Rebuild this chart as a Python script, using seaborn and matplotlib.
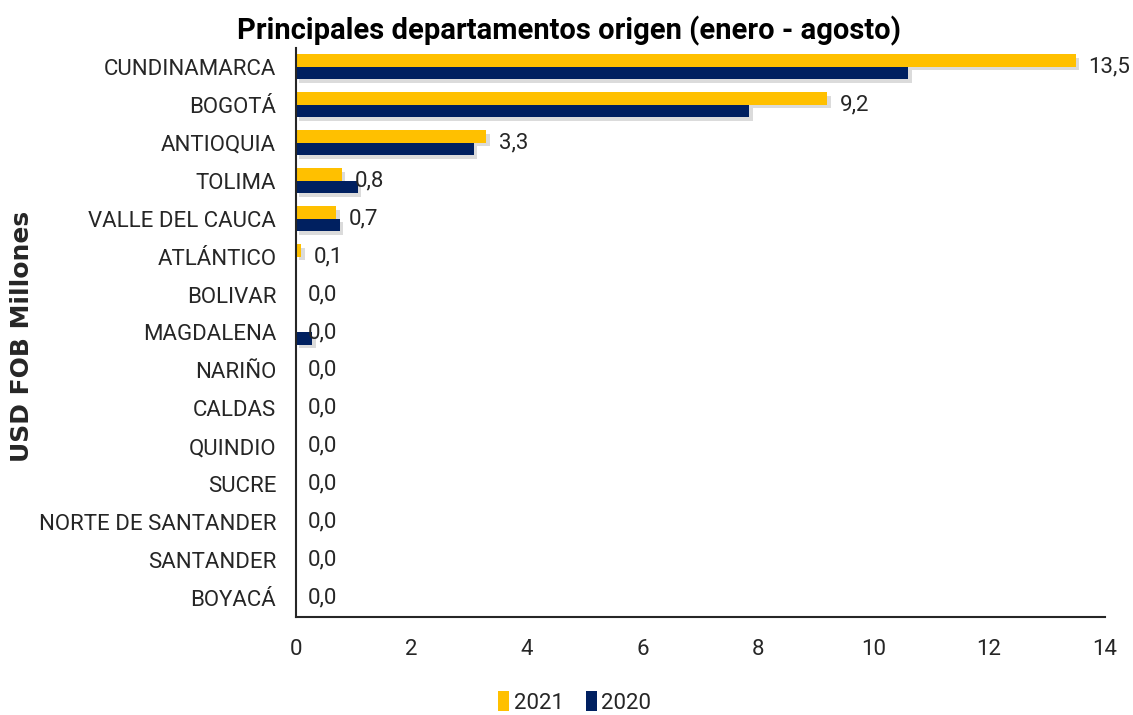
import numpy as np
import pandas as pd
import seaborn as sns
from matplotlib import pyplot as plt
import matplotlib.patheffects as pe

departamentos = ["CUNDINAMARCA", "BOGOTÁ", "ANTIOQUIA", "TOLIMA", "VALLE DEL CAUCA",
                 "ATLÁNTICO", "BOLIVAR", "MAGDALENA", "NARIÑO", "CALDAS", "QUINDIO",
                 "SUCRE", "NORTE DE SANTANDER", "SANTANDER", "BOYACÁ"]
val_2021 = [13.5, 9.2, 3.3, 0.8, 0.7, 0.1, 0.0, 0.0, 0.0, 0.0, 0.0, 0.0, 0.0, 0.0, 0.0]
val_2020 = [10.6, 7.85, 3.08, 1.07, 0.76, 0.0, 0.0, 0.29, 0.0, 0.0, 0.0, 0.0, 0.0, 0.0, 0.0]
anios = ["2021", "2020"]
colores = ["#FFC000", "#002060"]

df = pd.DataFrame({
    "depto": departamentos * 2,
    "valor": val_2021 + val_2020,
    "anio": [anios[0]] * len(departamentos) + [anios[1]] * len(departamentos),
})

sns.set_style("white")
plt.rcParams['font.family'] = ['Roboto', 'DejaVu Sans']

fig = plt.figure(figsize=(11.33, 7.15), dpi=100)
ax = fig.add_axes([0.261, 0.137, 0.714, 0.796])

sns.barplot(data=df, y="depto", x="valor", hue="anio", orient="h",
            palette=colores, saturation=1, width=0.66, linewidth=0, ax=ax, legend=True)

# sombra suave como en el original
shadow = [pe.SimplePatchShadow(offset=(2.5, -2.5), shadow_rgbFace="#9a9a9a", alpha=0.35),
          pe.Normal()]
for p in ax.patches:
    p.set_path_effects(shadow)

# etiquetas solo para 2021, en el centro de cada categoria
for i, v in enumerate(val_2021):
    ax.annotate(f"{v:.1f}".replace(".", ","), xy=(v, i), xytext=(9, 0),
                textcoords="offset points", va="center", ha="left",
                fontsize=16, color="#262626", annotation_clip=False)

ax.set_xlim(0, 14)
ax.set_xticks(range(0, 15, 2))
ax.set_ylim(len(departamentos) - 0.5, -0.5)
ax.tick_params(axis="x", labelsize=16, pad=16, length=0, colors="#262626")
ax.tick_params(axis="y", labelsize=16, pad=14, length=0, colors="#262626")
for s in ["top", "right"]:
    ax.spines[s].set_visible(False)
for s in ["left", "bottom"]:
    ax.spines[s].set_color("#262626")
    ax.spines[s].set_linewidth(1.5)

ax.set_xlabel("")
ax.set_ylabel("")
fig.text(0.019, 0.53, "USD FOB Millones", rotation=90, ha="center", va="center",
         fontsize=18, fontweight="bold", family="DejaVu Sans")
fig.text(0.502, 0.957, "Principales departamentos origen (enero - agosto)",
         ha="center", va="center", fontsize=21, fontweight="bold", color="black")

leg = ax.legend(loc="upper center", bbox_to_anchor=(0.345, -0.095), ncol=2, frameon=False,
                fontsize=16, handlelength=0.5, handleheight=1.0, handletextpad=0.2,
                columnspacing=1.0)
for h in leg.legend_handles:
    h.set_path_effects([])

plt.savefig("out.png", dpi=100)
plt.close()
